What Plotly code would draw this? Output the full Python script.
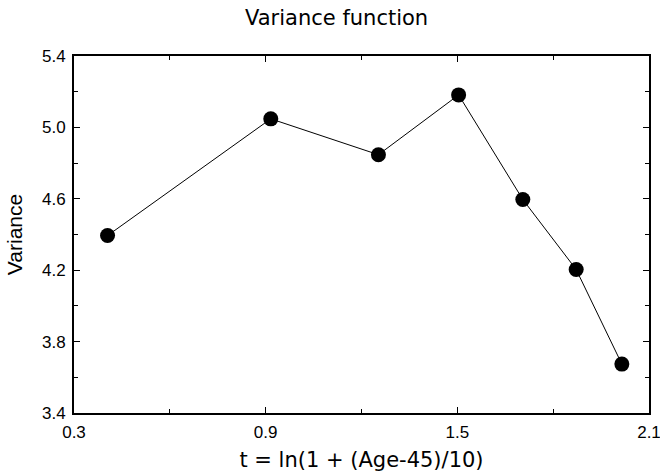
import plotly.graph_objects as go

t_values = [0.405, 0.916, 1.253, 1.504, 1.705, 1.872, 2.015]
variance = [4.394, 5.048, 4.847, 5.182, 4.596, 4.204, 3.674]

x_tickvals = [0.3, 0.9, 1.5, 2.1]
x_ticktext = ["0.3", "0.9", "1.5", "2.1"]
y_tickvals = [3.4, 3.8, 4.2, 4.6, 5.0, 5.4]
y_ticktext = ["3.4", "3.8", "4.2", "4.6", "5.0", "5.4"]

title_font = "DejaVu Sans"
tick_font = "Liberation Sans"

fig = go.Figure()
fig.add_trace(go.Scatter(
    x=t_values, y=variance, mode="lines+markers",
    line=dict(color="black", width=1),
    marker=dict(color="black", size=15),
    showlegend=False,
))

axis_common = dict(
    showgrid=False, zeroline=False, showline=True, linecolor="black", linewidth=2,
    mirror="allticks", ticks="inside", ticklen=6, tickcolor="black", tickwidth=1,
    tickfont=dict(family=tick_font, size=17, color="black"),
    minor=dict(ticks="inside", ticklen=4, tickcolor="black", tickwidth=1),
    automargin=False, ticklabeloverflow="allow",
)

fig.update_layout(
    width=660, height=473,
    margin=dict(l=74, r=11, t=56, b=60),
    paper_bgcolor="white", plot_bgcolor="white",
    title=dict(text="Variance function", x=0.51, xanchor="center", y=0.962, yanchor="middle",
               font=dict(family=title_font, size=21, color="black")),
    xaxis=dict(range=[0.3, 2.1], tickvals=x_tickvals, ticktext=x_ticktext,
               ticklabelstandoff=3,
               title=dict(text="t = ln(1 + (Age-45)/10)", standoff=11,
                          font=dict(family=title_font, size=21, color="black")),
               **axis_common),
    yaxis=dict(range=[3.4, 5.4], tickvals=y_tickvals, ticktext=y_ticktext,
               ticklabelstandoff=3,
               title=dict(text="Variance", standoff=14,
                          font=dict(family=tick_font, size=21, color="black")),
               **axis_common),
)
fig.update_xaxes(minor=dict(tickvals=[0.6, 1.2, 1.8]))
fig.update_yaxes(minor=dict(tickvals=[3.6, 4.0, 4.4, 4.8, 5.2]))

fig.write_html("out.html", config={"displayModeBar": False},
               post_script="document.body.style.margin='0';")
